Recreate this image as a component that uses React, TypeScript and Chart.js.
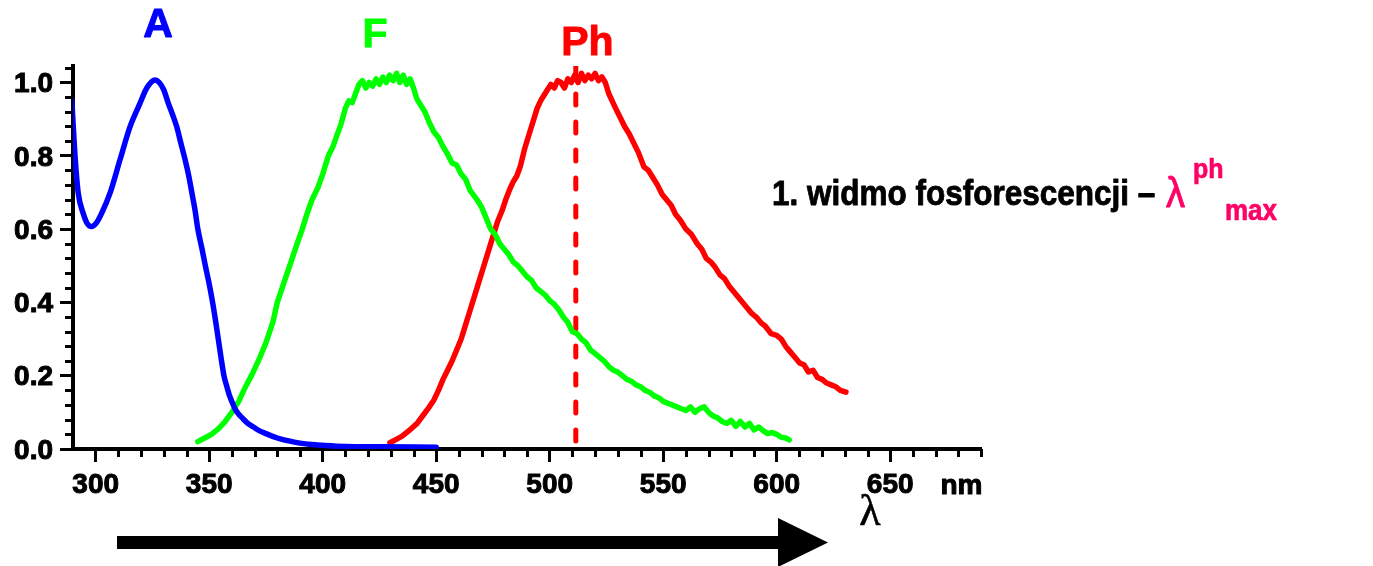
import React, { useEffect, useRef } from "react";
import { Chart, registerables } from "chart.js";

Chart.register(...registerables);

// Absorption spectrum (A)
const absX = [289.5, 291, 292.3, 294.5, 296.3, 298.2, 300.3, 302.6, 306.3, 310.7, 315.1, 319.5, 322.5, 326.2, 328, 330, 332, 334, 335.7, 337.5, 339.4, 341, 342.4, 343.8, 345, 346.7, 348.3, 350, 351.5, 352.8, 354, 355.2, 356.5, 357.8, 359, 360.3, 361.5, 363, 365, 367, 369.5, 372, 375, 380, 385, 390, 395, 400, 410, 425, 450];
const absY = [0.95, 0.79, 0.698, 0.643, 0.615, 0.607, 0.617, 0.643, 0.698, 0.789, 0.879, 0.943, 0.985, 1.007, 1.0, 0.98, 0.943, 0.91, 0.879, 0.835, 0.789, 0.745, 0.698, 0.65, 0.6, 0.55, 0.5, 0.45, 0.4, 0.35, 0.3, 0.25, 0.2, 0.17, 0.145, 0.125, 0.108, 0.095, 0.082, 0.07, 0.06, 0.05, 0.042, 0.03, 0.022, 0.016, 0.012, 0.01, 0.007, 0.006, 0.005];

// Fluorescence spectrum (F)
const fluX = [345, 348, 351, 354, 357, 360, 363, 366, 369, 372, 375, 378, 380, 383, 386, 389, 391, 393, 395.3, 398, 400, 402.5, 404.5, 406.5, 408, 410, 411.5, 413, 414.5, 416, 417.5, 419, 420.5, 422, 423.5, 425, 426.5, 428, 429.5, 431, 432.5, 434, 435.5, 437, 438.5, 440, 441.5, 443, 445, 447, 449, 451, 453, 455, 457, 459, 461, 463, 465, 468, 470, 472, 474, 476, 478, 480, 482, 484, 486, 488, 490, 492, 494, 496, 498, 500, 502, 504, 506, 508, 510, 512, 514, 516, 518, 520, 522, 524, 526, 528, 530, 532, 534, 536, 538, 540, 542, 544, 546, 548, 550, 552, 554, 556, 558, 560, 562, 564, 566, 568, 570, 572, 574, 576, 578, 580, 582, 584, 586, 588, 590, 592, 594, 596, 598, 600, 602, 604, 605.5];
const fluY = [0.02, 0.03, 0.04, 0.055, 0.075, 0.1, 0.13, 0.17, 0.205, 0.245, 0.29, 0.345, 0.4, 0.455, 0.51, 0.565, 0.6, 0.64, 0.68, 0.715, 0.75, 0.8, 0.825, 0.86, 0.885, 0.93, 0.95, 0.945, 0.97, 0.995, 1.005, 0.985, 1.0, 0.99, 1.01, 0.995, 1.015, 1.0, 1.02, 1.005, 1.025, 1.0, 1.02, 0.995, 1.01, 0.985, 0.955, 0.94, 0.92, 0.89, 0.865, 0.85, 0.825, 0.805, 0.78, 0.775, 0.75, 0.735, 0.705, 0.68, 0.66, 0.63, 0.6, 0.585, 0.56, 0.545, 0.53, 0.51, 0.5, 0.485, 0.47, 0.46, 0.44, 0.43, 0.42, 0.405, 0.395, 0.38, 0.36, 0.345, 0.32, 0.315, 0.3, 0.29, 0.27, 0.26, 0.25, 0.24, 0.225, 0.215, 0.21, 0.2, 0.19, 0.185, 0.175, 0.17, 0.16, 0.155, 0.145, 0.14, 0.13, 0.125, 0.12, 0.115, 0.11, 0.105, 0.115, 0.1, 0.11, 0.115, 0.1, 0.09, 0.085, 0.075, 0.07, 0.078, 0.062, 0.075, 0.06, 0.07, 0.052, 0.06, 0.05, 0.042, 0.045, 0.04, 0.032, 0.03, 0.025];

// Phosphorescence spectrum (Ph)
const phX = [429.6, 432, 435, 438, 441.6, 444, 447, 449, 451, 453, 455, 457, 459, 461, 463, 465, 467, 469, 471, 473, 475, 477, 479, 480.6, 482.5, 484, 485.5, 487, 489, 491, 493, 494.5, 496, 497.5, 499, 500.5, 502, 503.5, 505, 506.5, 508, 509.5, 511, 512.5, 514, 515.5, 517, 518.5, 520, 521.5, 523, 524.5, 526, 527.5, 529, 531, 533, 535, 537, 539, 541.5, 543.5, 545.5, 547.5, 549.5, 551.5, 553.5, 555.5, 557.5, 560, 562.5, 565, 567, 569, 571, 573, 575, 577, 579, 581, 583, 585, 587, 589, 591, 593, 595, 597.5, 600, 602, 604, 606, 608, 610, 612, 614, 616, 618, 620, 622, 624, 626, 628, 630.5];
const phY = [0.017, 0.025, 0.035, 0.05, 0.07, 0.09, 0.115, 0.134, 0.16, 0.19, 0.215, 0.24, 0.27, 0.3, 0.34, 0.38, 0.42, 0.46, 0.5, 0.54, 0.58, 0.62, 0.65, 0.68, 0.71, 0.73, 0.745, 0.77, 0.82, 0.86, 0.9, 0.93, 0.95, 0.965, 0.98, 0.995, 0.985, 1.005, 1.0, 0.985, 1.01, 1.0, 1.02, 1.0, 1.025, 1.005, 1.02, 1.01, 1.025, 1.005, 1.015, 1.0, 0.97, 0.95, 0.93, 0.905, 0.88, 0.86, 0.835, 0.81, 0.77, 0.76, 0.74, 0.72, 0.695, 0.68, 0.665, 0.64, 0.625, 0.6, 0.585, 0.56, 0.545, 0.52, 0.51, 0.495, 0.475, 0.465, 0.445, 0.43, 0.415, 0.4, 0.385, 0.37, 0.36, 0.345, 0.335, 0.315, 0.31, 0.3, 0.28, 0.265, 0.25, 0.235, 0.23, 0.21, 0.215, 0.195, 0.19, 0.18, 0.175, 0.17, 0.16, 0.155];

// phosphorescence maximum marker
const phMaxX = [511.5, 511.5];
const phMaxY = [1.045, 0];

// axis ticks
const xTickValues = [300, 350, 400, 450, 500, 550, 600, 650];
const xMinorTicks = [310, 320, 330, 340, 360, 370, 380, 390, 410, 420, 430, 440, 460, 470, 480, 490, 510, 520, 530, 540, 560, 570, 580, 590, 610, 620, 630, 640, 660, 670, 680, 690];
const yTickValues = [0, 0.2, 0.4, 0.6, 0.8, 1.0];
const yMinorTicks = [0.04, 0.08, 0.12, 0.16, 0.24, 0.28, 0.32, 0.36, 0.44, 0.48, 0.52, 0.56, 0.64, 0.68, 0.72, 0.76, 0.84, 0.88, 0.92, 0.96, 1.04];

// curve labels
const curveLabels = ["A", "F", "Ph"];
const curveLabelX = [327.5, 423, 516.6];
const curveLabelY = [1.155, 1.128, 1.106];
const curveColors = ["#0000FF", "#00FF00", "#FF0000"];

const SANS = '"Liberation Sans", Arial, Helvetica, sans-serif';

const toPts = (xs: number[], ys: number[]) => xs.map((x, i) => ({ x, y: ys[i] }));

function boldText(ctx: CanvasRenderingContext2D, t: string, x: number, y: number, color: string, stroke: number) {
  ctx.fillStyle = color;
  ctx.fillText(t, x, y);
  if (stroke > 0) {
    ctx.strokeStyle = color;
    ctx.lineWidth = stroke;
    ctx.lineJoin = "round";
    ctx.strokeText(t, x, y);
  }
}

const decorPlugin = {
  id: "decor",
  afterDraw(chart: any) {
    const ctx: CanvasRenderingContext2D = chart.ctx;
    const xs = chart.scales.x;
    const ys = chart.scales.y;
    const a = chart.chartArea;
    ctx.save();
    // minor ticks
    ctx.strokeStyle = "#000";
    ctx.lineWidth = 3;
    xMinorTicks.forEach((v) => {
      const px = Math.round(xs.getPixelForValue(v)) + 0.5;
      ctx.beginPath();
      ctx.moveTo(px, a.bottom);
      ctx.lineTo(px, a.bottom + 8);
      ctx.stroke();
    });
    yMinorTicks.forEach((v) => {
      const py = Math.round(ys.getPixelForValue(v)) + 0.5;
      ctx.beginPath();
      ctx.moveTo(a.left, py);
      ctx.lineTo(a.left - 8, py);
      ctx.stroke();
    });

    // curve labels
    ctx.textAlign = "center";
    ctx.textBaseline = "middle";
    ctx.font = `bold 41px ${SANS}`;
    curveLabels.forEach((t, i) => {
      boldText(ctx, t, xs.getPixelForValue(curveLabelX[i]), ys.getPixelForValue(curveLabelY[i]), curveColors[i], 1);
    });

    // unit
    ctx.font = `bold 28px ${SANS}`;
    boldText(ctx, "nm", 961.5, 486, "#000", 1);

    // lambda under axis
    ctx.font = `44px "Liberation Serif", "Times New Roman", serif`;
    boldText(ctx, "λ", 870, 513, "#000", 0.6);

    // arrow
    ctx.fillStyle = "#000";
    ctx.fillRect(117, 536, 662, 13);
    ctx.beginPath();
    ctx.moveTo(778, 518);
    ctx.lineTo(828, 542.5);
    ctx.lineTo(778, 567);
    ctx.closePath();
    ctx.fill();

    // right text
    ctx.textAlign = "left";
    ctx.textBaseline = "alphabetic";
    ctx.save();
    ctx.translate(772, 205);
    ctx.scale(1, 1.14);
    ctx.font = `bold 31.5px ${SANS}`;
    boldText(ctx, "1. widmo fosforescencji –", 0, 0, "#000", 0.8);
    ctx.restore();

    ctx.save();
    ctx.translate(1166, 207);
    ctx.scale(1, 1.12);
    ctx.font = `38px ${SANS}`;
    boldText(ctx, "λ", 0, 0, "#FF0066", 0.8);
    ctx.restore();

    ctx.save();
    ctx.translate(1193, 178);
    ctx.scale(1, 1.14);
    ctx.font = `bold 25px ${SANS}`;
    boldText(ctx, "ph", 0, 0, "#FF0066", 0.6);
    ctx.restore();

    ctx.save();
    ctx.translate(1225, 220);
    ctx.scale(1, 1.14);
    ctx.font = `bold 26px ${SANS}`;
    boldText(ctx, "max", 0, 0, "#FF0066", 0.6);
    ctx.restore();

    ctx.restore();
  },
};

export default function App() {
  const ref = useRef<HTMLCanvasElement>(null);
  useEffect(() => {
    if (!ref.current) return;
    const tickFont = { family: SANS, size: 28, weight: "bold" as const };
    const lineCommon = {
      borderWidth: 5.5,
      pointRadius: 0,
      fill: false,
      borderJoinStyle: "round" as const,
      borderCapStyle: "round" as const,
    };
    const chart = new Chart(ref.current, {
      type: "line",
      data: {
        datasets: [
          { label: "A", data: toPts(absX, absY), borderColor: "#0000FF", tension: 0.4, cubicInterpolationMode: "monotone", ...lineCommon },
          { label: "F", data: toPts(fluX, fluY), borderColor: "#00FF00", tension: 0, ...lineCommon },
          { label: "Ph", data: toPts(phX, phY), borderColor: "#FF0000", tension: 0, ...lineCommon },
          { label: "λmax", data: toPts(phMaxX, phMaxY), borderColor: "#FF0000", borderDash: [11, 17], tension: 0, ...lineCommon, borderWidth: 5 },
        ],
      },
      options: {
        responsive: false,
        animation: false,
        devicePixelRatio: 1,
        layout: { padding: { left: 0, top: 66, right: 392, bottom: 57 } },
        plugins: { legend: { display: false }, tooltip: { enabled: false } },
        scales: {
          x: {
            type: "linear",
            min: 290,
            max: 690,
            afterBuildTicks: (s: any) => {
              s.ticks = xTickValues.map((v) => ({ value: v }));
            },
            afterFit: (s: any) => {
              s.height = 60;
            },
            grid: { display: true, drawOnChartArea: false, drawTicks: true, tickLength: 13, tickWidth: 3, tickColor: "#000" },
            border: { display: true, color: "#000", width: 4 },
            ticks: { autoSkip: false, maxRotation: 0, padding: 6, color: "#000", textStrokeColor: "#000", textStrokeWidth: 1, font: tickFont, callback: (v: any) => String(v) },
          },
          y: {
            type: "linear",
            min: 0,
            max: 1.045,
            afterBuildTicks: (s: any) => {
              s.ticks = yTickValues.map((v) => ({ value: v }));
            },
            afterFit: (s: any) => {
              s.width = 73;
            },
            grid: { display: true, drawOnChartArea: false, drawTicks: true, tickLength: 13, tickWidth: 3, tickColor: "#000" },
            border: { display: true, color: "#000", width: 4 },
            ticks: { autoSkip: false, padding: 7, labelOffset: 2, color: "#000", textStrokeColor: "#000", textStrokeWidth: 1, font: tickFont, callback: (v: any) => Number(v).toFixed(1) },
          },
        },
      },
      plugins: [decorPlugin],
    } as any);
    return () => chart.destroy();
  }, []);
  return (
    <div style={{ position: "fixed", left: 0, top: 0, width: 1373, height: 566, background: "#fff" }}>
      <canvas ref={ref} width={1373} height={566} style={{ display: "block", width: 1373, height: 566 }} />
    </div>
  );
}
